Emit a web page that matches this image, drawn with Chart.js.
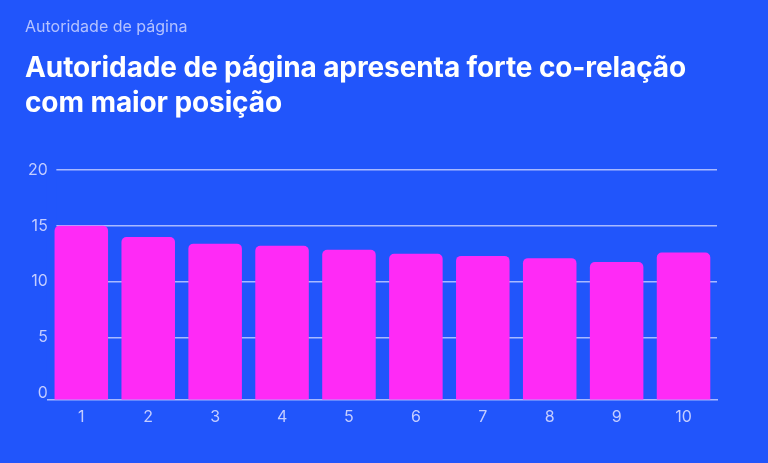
<!DOCTYPE html>
<html>
<head>
<meta charset="utf-8">
<script src="https://cdn.jsdelivr.net/npm/chart.js@4"></script>
<style>
  html, body { margin: 0; padding: 0; }
  body { width: 768px; height: 463px; background: #2155fb; position: relative; overflow: hidden; font-family: Inter, "Noto Sans", sans-serif; }
  .kicker { position: absolute; left: 25px; top: 16px; font-size: 16px; color: #b4c2ff; }
  .title { position: absolute; left: 25px; top: 50px; font-size: 28px; line-height: 35px; font-weight: 700; color: #ffffff; letter-spacing: -0.1px; }
  #wrap { position: absolute; left: 0; top: 0; width: 768px; height: 463px; }
</style>
</head>
<body>
<div id="wrap"><canvas id="bars"></canvas></div>
<div class="kicker">Autoridade de página</div>
<div class="title">Autoridade de página apresenta forte co-relação<br>com maior posição</div>

<script>
// posição no Google
const positions = ['1', '2', '3', '4', '5', '6', '7', '8', '9', '10'];
// autoridade de página média
const pageAuthority = [15.0, 14.0, 13.4, 13.2, 12.85, 12.5, 12.3, 12.1, 11.75, 12.6];
const yTicks = [0, 5, 10, 15, 20];

const yMin = -0.6;
const bg = '#2155fb';

// gridlines start a bit right of the axis labels
const gridGap = {
    id: 'gridGap',
    beforeDatasetsDraw(chart) {
        const { ctx, chartArea } = chart;
        ctx.save();
        ctx.fillStyle = bg;
        ctx.fillRect(chartArea.left - 1, chartArea.top - 3, 9.5, chartArea.bottom - chartArea.top);
        ctx.restore();
    }
};

window.addEventListener("DOMContentLoaded", () => {
    const ctx = document.getElementById("bars").getContext("2d");

    window.myChart = new Chart(ctx, {
        type: 'bar',
        data: {
            labels: positions,
            datasets: [
                {
                    label: 'Autoridade de página',
                    data: pageAuthority,
                    base: yMin,
                    backgroundColor: '#ff2af6',
                    borderRadius: 5,
                    borderSkipped: 'start',
                    barPercentage: 0.8,
                    categoryPercentage: 1
                }
            ]
        },
        options: {
            responsive: true,
            maintainAspectRatio: false,
            animation: false,
            layout: { padding: { top: 170, left: 28, right: 51, bottom: 36 } },
            plugins: {
                legend: { display: false },
                tooltip: { enabled: false }
            },
            scales: {
                x: {
                    grid: { display: false },
                    border: { display: true, color: '#a9b9ff', width: 1.5 },
                    ticks: { color: '#c4cdff', font: { family: 'Inter', size: 16 }, padding: 0 }
                },
                y: {
                    min: yMin,
                    max: 20,
                    afterBuildTicks: axis => {
                        axis.ticks = yTicks.map(v => ({ value: v }));
                    },
                    grid: {
                        color: c => c.tick && c.tick.value === 0 ? 'rgba(0,0,0,0)' : '#a9b9ff',
                        lineWidth: 1.5,
                        drawTicks: false
                    },
                    border: { display: false },
                    ticks: { color: '#c4cdff', font: { family: 'Inter', size: 16 }, padding: 0 }
                }
            }
        },
        plugins: [gridGap]
    });
});
</script>
</body>
</html>
